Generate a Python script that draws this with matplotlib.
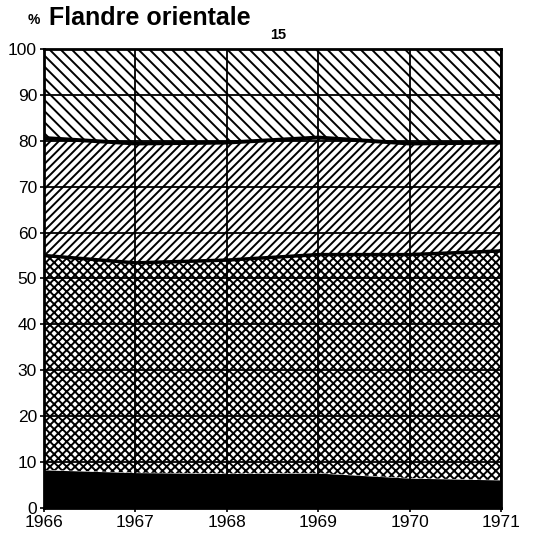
import matplotlib
matplotlib.use("Agg")
import matplotlib.pyplot as plt
import numpy as np

# years and cumulative share boundaries (%)
years = [1966, 1967, 1968, 1969, 1970, 1971]
black_top = [8.3, 7.7, 7.5, 7.6, 6.5, 6.1]
cross_top = [55.0, 53.4, 54.0, 55.2, 55.2, 56.0]
slash_top = [80.6, 79.4, 79.6, 80.7, 79.4, 79.6]
total = [100, 100, 100, 100, 100, 100]
ylabels = ["0", "10", "20", "30", "40", "50", "60", "70", "80", "90", "100"]

plt.rcParams['font.family'] = ['Liberation Sans', 'DejaVu Sans']
plt.rcParams['hatch.linewidth'] = 1.4

fig = plt.figure(figsize=(5.46, 5.35), dpi=100)
ax = fig.add_axes([0.0806, 0.0505, 0.837, 0.858])

zero = np.zeros(len(years))
ax.fill_between(years, zero, black_top, facecolor='black', edgecolor='black', linewidth=0)
ax.fill_between(years, black_top, cross_top, facecolor='white', edgecolor='black', hatch='xxxx', linewidth=0)
ax.fill_between(years, cross_top, slash_top, facecolor='white', edgecolor='black', hatch='////', linewidth=0)
ax.fill_between(years, slash_top, total, facecolor='white', edgecolor='black', hatch='\\\\\\', linewidth=0)

# layer boundaries
ax.plot(years, cross_top, color='black', lw=2.5)
ax.plot(years, slash_top, color='black', lw=2.8)

ax.set_xlim(1966, 1971)
ax.set_ylim(0, 100)
ax.set_xticks(years)
ax.set_xticklabels([str(y) for y in years])
ax.set_yticks(range(0, 101, 10))
ax.set_yticklabels(ylabels)
ax.tick_params(labelsize=12.5, length=3, width=1.2, pad=2)
ax.grid(True, color='black', linewidth=1.3)
ax.set_axisbelow(False)
for s in ax.spines.values():
    s.set_linewidth(2)

fig.text(0.051, 0.962, "%", fontsize=10, fontweight='bold', va='center')
fig.text(0.090, 0.966, "Flandre orientale", fontsize=18, fontweight='bold', va='center')
fig.text(0.51, 0.935, "15", fontsize=10.5, fontweight='bold', va='center', ha='center')

fig.savefig("out.png", dpi=100)
